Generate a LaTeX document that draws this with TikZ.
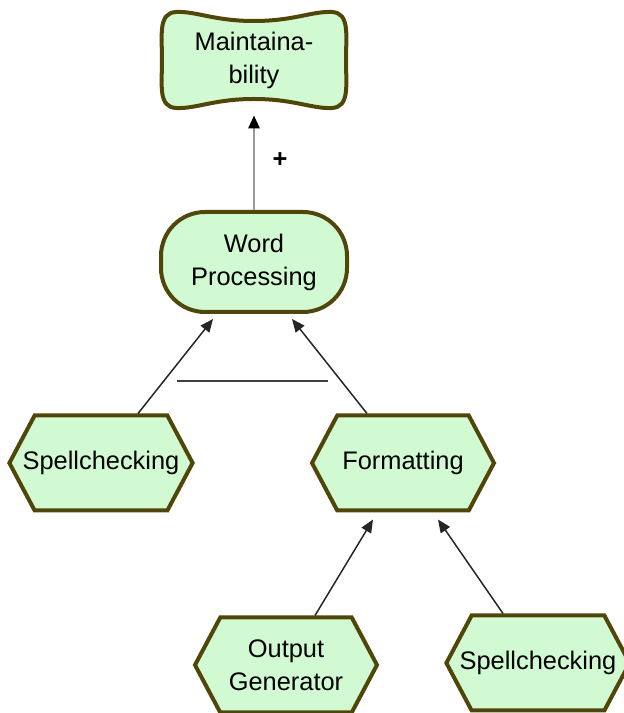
\documentclass[tikz,border=0pt]{standalone}
\usepackage{fontspec}
\setmainfont{Liberation Sans}
\usetikzlibrary{shapes.symbols,arrows.meta,calc}

\definecolor{leaf}{RGB}{210,250,210}
\definecolor{rim}{RGB}{80,70,10}

\tikzset{
  label font/.style={font=\fontsize{12.7}{16.5}\selectfont},
  hexbox/.style={signal, signal to=east and west, signal pointer angle=124,
    draw=rim, fill=leaf, line width=2pt, minimum width=91pt, minimum height=47.5pt,
    inner xsep=-6pt, inner ysep=1pt, align=center, label font},
  softbox/.style={rectangle, rounded corners=22pt, draw=rim, fill=leaf, line width=2pt,
    minimum width=93pt, minimum height=50pt, align=center, label font},
  goaltext/.style={rectangle, minimum width=92pt, minimum height=49pt, align=center, label font},
  cushion/.style={draw=rim, fill=leaf, line width=2pt},
  conn/.style={-{Triangle[length=6.5pt,width=5.5pt]}, line width=0.75pt, black!85},
  contrib/.style={-{Triangle[length=6.5pt,width=5.5pt,color=black]}, line width=1.3pt, black!40},
  bar/.style={line width=1pt, black!75}
}

\begin{document}
\begin{tikzpicture}[x=0.5pt,y=0.5pt]
    \newcommand{\mx}{254}
    \newcommand{\my}{653}
    \useasboundingbox (0,0) rectangle (623,713);

    % softgoal outline
    \draw[cushion, shift={(\mx,\my)}] (0,39) .. controls (40,39) and (58,49) .. (78,48)
        .. controls (96,47) and (92,25) .. (92,0) .. controls (92,-25) and (96,-47) .. (78,-48)
        .. controls (58,-49) and (40,-39) .. (0,-39) .. controls (-40,-39) and (-58,-49) .. (-78,-48)
        .. controls (-96,-47) and (-92,-25) .. (-92,0) .. controls (-92,25) and (-96,47) .. (-78,48)
        .. controls (-58,49) and (-40,39) .. (0,39) -- cycle;
    \node[goaltext] (maint) at (\mx,\my) {Maintaina-\\bility};

    \node[softbox] (wp) at (254,451) {Word\\Processing};

    \node[hexbox] (spellL) at (101,250) {Spellchecking};
    \node[hexbox] (fmt) at (403,250) {Formatting};
    \node[hexbox] (outgen) at (286,48) {Output\\Generator};
    \node[hexbox] (spellR) at (538,50) {Spellchecking};

    \draw[contrib] (wp.north) -- ($(maint.south)+(0,-6)$);
    \node[label font] (plus) at (280,553) {\textbf{+}};

    \draw[conn] ($(spellL.north)+(37,0)$) -- ($(wp.south)+(-41,-5)$);
    \draw[conn] ($(fmt.north)+(-36,0)$) -- ($(wp.south)+(38,-5)$);
    \coordinate (barL) at (177,332);
    \coordinate (barR) at (328,332);
    \draw[bar] (barL) -- (barR);

    \draw[conn] ($(outgen.north)+(29,0)$) -- ($(fmt.south)+(-30,-7)$);
    \draw[conn] ($(spellR.north)+(-35,0)$) -- ($(fmt.south)+(35,-7)$);

\end{tikzpicture}
\end{document}
